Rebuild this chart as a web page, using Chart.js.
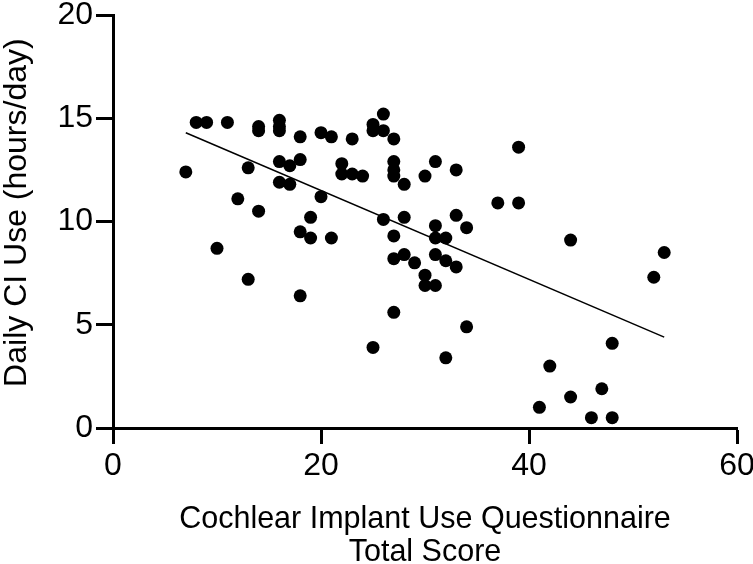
<!DOCTYPE html>
<html>
<head>
<meta charset="utf-8">
<script src="https://cdn.jsdelivr.net/npm/chart.js@4"></script>
<style>
  html, body { margin: 0; padding: 0; background: #fff; }
  #wrap { width: 753px; height: 564px; }
</style>
</head>
<body>
<div id="wrap"><canvas id="ciChart" width="753" height="564"></canvas></div>
<script>
// questionnaire total score (x) and daily CI use in hours/day (y)
const scores = [
  7, 8, 9, 11, 10, 12, 13, 13, 14, 14, 14,
  16, 16, 16, 16, 16, 17, 17, 18, 18, 18, 18,
  19, 19, 20, 20, 21, 21, 22, 22, 23, 23, 24,
  25, 25, 25, 26, 26, 26, 27, 27, 27, 27, 27, 27, 27,
  28, 28, 28, 29, 30, 30, 30, 31, 31, 31, 31, 31,
  32, 32, 32, 33, 33, 33, 34, 34, 37, 39, 39,
  41, 42, 44, 44, 46, 47, 48, 48, 52, 53
];
const hours = [
  12.4, 14.8, 14.8, 14.8, 8.7, 11.1, 12.6, 7.2, 14.6, 14.4, 10.5,
  14.9, 14.6, 14.4, 12.9, 11.9, 11.8, 12.7, 14.1, 13.0, 9.5, 6.4,
  10.2, 9.2, 11.2, 14.3, 14.1, 9.2, 12.8, 12.3, 14.0, 12.3, 12.2,
  14.7, 14.4, 3.9, 15.2, 14.4, 10.1, 14.0, 12.9, 12.5, 12.2, 9.3, 8.2, 5.6,
  11.8, 10.2, 8.4, 8.0, 12.2, 7.4, 6.9, 12.9, 9.8, 9.2, 8.4, 6.9,
  9.2, 8.1, 3.4, 12.5, 10.3, 7.8, 9.7, 4.9, 10.9, 13.6, 10.9,
  1.0, 3.0, 9.1, 1.5, 0.5, 1.9, 4.1, 0.5, 7.3, 8.5
];
// regression line end points
const fitX = [7, 53];
const fitY = [14.3, 4.4];

const xTicks = [0, 20, 40, 60];
const yTicks = [0, 5, 10, 15, 20];

const FONT = '"Liberation Sans", Arial, Helvetica, sans-serif';

const points = scores.map((s, i) => ({ x: s, y: hours[i] }));
const fitLine = fitX.map((x, i) => ({ x, y: fitY[i] }));

const axisStyle = {
  border: { display: true, color: '#000', width: 3 },
  grid: { drawOnChartArea: false, drawTicks: true, tickLength: 16, tickWidth: 3, tickColor: '#000' }
};

new Chart(document.getElementById('ciChart').getContext('2d'), {
  type: 'scatter',
  data: {
    datasets: [
      {
        type: 'line',
        data: fitLine,
        borderColor: '#000',
        borderWidth: 1.5,
        pointRadius: 0,
        fill: false,
        order: 2
      },
      {
        data: points,
        backgroundColor: '#000',
        borderWidth: 0,
        pointRadius: 6.5,
        pointHoverRadius: 6.5,
        order: 1
      }
    ]
  },
  options: {
    responsive: false,
    animation: false,
    clip: false,
    layout: { padding: { top: 15, right: 16, bottom: 0, left: 0 } },
    plugins: { legend: { display: false }, tooltip: { enabled: false } },
    scales: {
      x: {
        type: 'linear',
        min: 0, max: 60,
        afterBuildTicks: s => { s.ticks = xTicks.map(v => ({ value: v })); },
        afterFit: s => { s.height = 136; s.paddingLeft = 0; s.paddingRight = 0; },
        ...axisStyle,
        ticks: { color: '#000', font: { family: FONT, size: 32 }, padding: 3 },
        title: {
          display: true,
          text: ['Cochlear Implant Use Questionnaire', 'Total Score'],
          color: '#000',
          font: { family: FONT, size: 30.5, lineHeight: 1.08 },
          padding: { top: 0, bottom: -5 }
        }
      },
      y: {
        type: 'linear',
        min: 0, max: 20,
        afterBuildTicks: s => { s.ticks = yTicks.map(v => ({ value: v })); },
        afterFit: s => { s.width = 113; s.paddingTop = 0; s.paddingBottom = 0; },
        ...axisStyle,
        grid: { ...axisStyle.grid, tickLength: 17 },
        ticks: { color: '#000', font: { family: FONT, size: 32 }, padding: 3 },
        title: {
          display: true,
          text: '\u00A0\u00A0Daily CI Use (hours/day)',
          color: '#000',
          font: { family: FONT, size: 32, lineHeight: 1.05 },
          padding: 0
        }
      }
    }
  }
});
</script>
</body>
</html>
